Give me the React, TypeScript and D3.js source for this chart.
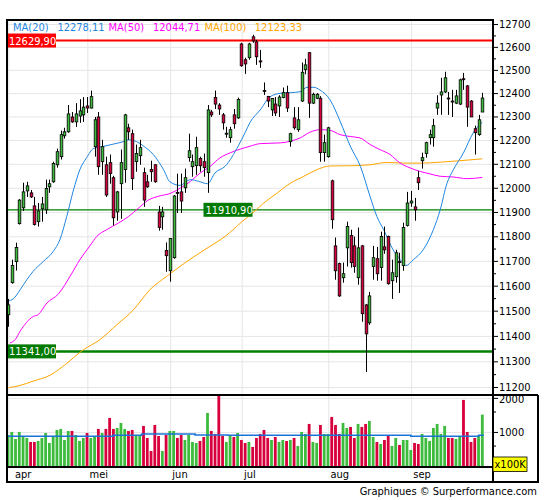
import React from 'react';
import * as d3 from 'd3';

// daily OHLC, one entry per trading day (apr .. sep)
const opens = [
  11486, 11614, 11699, 11854, 11919, 11989, 11981, 11927, 11862, 11915,
  11911, 12006, 12027, 12098, 12132, 12220, 12237, 12300, 12279, 12304,
  12309, 12347, 12338, 12174, 12300, 12111, 12098, 12107, 12044, 11902,
  12019, 12078, 12254, 12229, 12111, 12136, 12065, 12027, 12078, 12098,
  11902, 11882, 11744, 11662, 11715, 11983, 11985, 12002, 12128, 12090,
  12094, 12124, 12111, 12065, 12321, 12383, 12351, 12309, 12229, 12212,
  12309, 12296, 12615, 12546, 12555, 12646, 12624, 12541, 12413, 12388,
  12330, 12355, 12347, 12383, 12404, 12195, 12296, 12246, 12368, 12503,
  12577, 12359, 12380, 12380, 12149, 12132, 12031, 11763, 11691, 11634,
  11755, 11805, 11763, 11634, 11763, 11525, 11454, 11679, 11711, 11675,
  11759, 11801, 11622, 11638, 11699, 11683, 11846, 11939, 11923, 12044,
  12115, 12145, 12212, 12212, 12338, 12394, 12407, 12381, 12368, 12359,
  12355, 12464, 12433, 12368, 12250, 12225, 12321,
];
const highs = [
  11549, 11707, 11776, 11955, 12023, 12027, 11993, 11964, 11939, 11964,
  12036, 12036, 12111, 12166, 12242, 12254, 12351, 12321, 12359, 12376,
  12385, 12385, 12413, 12300, 12321, 12203, 12132, 12141, 12052, 11989,
  12162, 12313, 12271, 12246, 12183, 12203, 12086, 12056, 12115, 12100,
  11927, 11923, 11777, 11795, 11972, 12061, 12061, 12082, 12229, 12141,
  12216, 12132, 12145, 12351, 12330, 12413, 12359, 12317, 12258, 12258,
  12334, 12383, 12620, 12555, 12620, 12655, 12633, 12589, 12448, 12390,
  12381, 12385, 12393, 12426, 12434, 12233, 12342, 12342, 12534, 12550,
  12580, 12404, 12402, 12389, 12225, 12258, 12036, 11797, 11695, 11695,
  11862, 11829, 11801, 11838, 11767, 11529, 11577, 11763, 11759, 11821,
  11842, 11805, 11707, 11747, 11735, 11858, 11985, 11989, 11960, 12073,
  12149, 12195, 12246, 12292, 12393, 12468, 12494, 12407, 12416, 12416,
  12464, 12489, 12437, 12372, 12263, 12309, 12403,
];
const lows = [
  11438, 11610, 11663, 11850, 11906, 11964, 11960, 11846, 11842, 11862,
  11894, 11981, 12023, 12086, 12120, 12208, 12233, 12275, 12258, 12275,
  12279, 12317, 12336, 12132, 12056, 12056, 11964, 12019, 11846, 11866,
  11874, 12023, 12203, 11993, 12069, 12098, 11923, 12002, 12027, 12023,
  11825, 11829, 11658, 11618, 11711, 11898, 11898, 11981, 12111, 12048,
  12056, 12069, 12048, 11981, 12300, 12334, 12309, 12246, 12212, 12191,
  12250, 12292, 12516, 12485, 12546, 12620, 12524, 12511, 12394, 12342,
  12304, 12304, 12300, 12380, 12321, 12174, 12246, 12237, 12364, 12483,
  12296, 12355, 12376, 12111, 12111, 12128, 11833, 11626, 11557, 11614,
  11679, 11675, 11654, 11606, 11458, 11260, 11446, 11626, 11622, 11622,
  11731, 11606, 11549, 11614, 11573, 11662, 11842, 11923, 11866, 11993,
  12082, 12128, 12183, 12174, 12309, 12309, 12403, 12309, 12300, 12355,
  12351, 12416, 12258, 12300, 12141, 12220, 12321,
];
const closes = [
  11525, 11683, 11756, 11951, 11985, 12010, 11964, 11850, 11906, 11935,
  11999, 12019, 12103, 12153, 12225, 12237, 12313, 12279, 12313, 12326,
  12342, 12338, 12387, 12288, 12090, 12174, 11972, 12061, 11878, 11985,
  12107, 12309, 12237, 12040, 12145, 12170, 11951, 12006, 12069, 12027,
  11838, 11902, 11723, 11793, 11968, 11979, 11947, 12044, 12157, 12111,
  12170, 12094, 12086, 12330, 12309, 12355, 12334, 12275, 12231, 12246,
  12271, 12375, 12520, 12528, 12615, 12628, 12559, 12537, 12411, 12368,
  12379, 12317, 12385, 12404, 12338, 12229, 12254, 12288, 12492, 12524,
  12359, 12397, 12397, 12149, 12191, 12254, 11870, 11662, 11561, 11650,
  11842, 11695, 11679, 11755, 11490, 11410, 11561, 11715, 11650, 11801,
  11747, 11610, 11654, 11735, 11697, 11838, 11939, 11947, 11911, 12023,
  12128, 12191, 12225, 12263, 12359, 12407, 12468, 12380, 12366, 12390,
  12459, 12462, 12342, 12300, 12233, 12288, 12381,
];
// volume in units of 100K
const volumes = [
  926, 1015, 809, 1015, 897, 838, 721, 721, 750, 838,
  985, 691, 897, 1074, 1103, 779, 1044, 1044, 926, 750,
  838, 985, 838, 867, 1103, 985, 1103, 1426, 1103, 1132,
  1279, 1103, 1044, 1074, 897, 897, 1191, 838, 456, 1220,
  897, 456, 926, 1044, 1044, 838, 926, 779, 926, 721,
  691, 750, 867, 1574, 1044, 956, 2090, 897, 721, 897,
  867, 985, 779, 691, 721, 574, 838, 956, 1074, 838,
  779, 867, 721, 779, 750, 779, 838, 603, 1015, 956,
  1250, 721, 691, 1220, 956, 956, 1456, 1220, 956, 1279,
  1132, 1162, 838, 1250, 1162, 1250, 1338, 867, 721, 662,
  779, 897, 603, 838, 633, 779, 779, 485, 691, 662,
  956, 838, 750, 1132, 1250, 956, 1191, 838, 838, 809,
  867, 1956, 1015, 721, 838, 897, 1524,
];

// moving averages at sample days
const ma20Days = [0, 1.4, 3.2, 5, 6.7, 9.4, 12, 13.8, 15.6, 17.4, 19.1, 20.9, 22.7, 25.3, 28, 30.6, 32, 34.2, 35.9, 38.6, 41.3, 43, 45.7, 48.4, 50.6, 53, 55, 57.7, 61.2, 63, 64.3, 67, 69.6, 72.3, 75, 77.6, 79.4, 81.2, 82.9, 85.6, 88.3, 90.9, 93.6, 96.2, 98, 99.8, 102.3, 104.2, 105.7, 107.7, 110.3, 113, 114.8, 116.6, 118.3, 121, 123.6, 126];
const ma20Values = [11541, 11549, 11585, 11626, 11660, 11700, 11740, 11789, 11883, 11993, 12078, 12128, 12166, 12175, 12185, 12195, 12203, 12195, 12178, 12141, 12078, 12027, 12012, 12036, 12029, 12019, 12064, 12092, 12178, 12234, 12277, 12330, 12386, 12401, 12404, 12408, 12427, 12427, 12415, 12372, 12279, 12177, 12092, 11965, 11883, 11829, 11747, 11707, 11683, 11707, 11747, 11829, 11910, 12020, 12077, 12148, 12233, 12278];
const ma50Days = [0.5, 1.9, 3.2, 6.7, 8, 10.3, 13.4, 16.5, 19.1, 21.8, 23.6, 26.2, 29.3, 32, 34.6, 37.3, 40, 43, 45.7, 48.4, 51, 53.7, 56.3, 59, 64.3, 67, 72.3, 75, 77.6, 80.2, 82.9, 85.6, 88.2, 90.9, 93.5, 96.2, 98.8, 101.5, 104.1, 106.8, 109.5, 112.1, 114.8, 118.3, 121.9, 126];
const ma50Values = [11374, 11387, 11420, 11479, 11486, 11532, 11569, 11640, 11707, 11764, 11802, 11829, 11856, 11883, 11917, 11951, 11967, 11978, 12000, 12028, 12063, 12091, 12127, 12148, 12176, 12187, 12190, 12197, 12211, 12235, 12246, 12243, 12225, 12217, 12211, 12183, 12162, 12141, 12106, 12085, 12070, 12060, 12050, 12047, 12040, 12045];
const ma100Days = [0.1, 3.2, 6.7, 11.2, 15.6, 20, 24.4, 28.9, 33.3, 37.7, 42.2, 47, 52.3, 57.7, 62.1, 65.9, 67.8, 71.4, 75, 78.5, 82, 85.5, 90.9, 96.2, 100.6, 105, 109.5, 114.8, 120.1, 126];
const ma100Values = [11199, 11208, 11225, 11248, 11294, 11347, 11387, 11446, 11505, 11586, 11640, 11694, 11748, 11802, 11861, 11910, 11937, 11979, 12021, 12049, 12077, 12093, 12094, 12098, 12108, 12105, 12105, 12109, 12115, 12123];

// average volume, stepped
const volAvgBreaks = [0, 28, 35.5, 49.7, 58.4, 107, 125, 126.4];
const volAvgValues = [888, 918, 956, 926, 918, 888, 918, 918];

const monthLabels = ['apr', 'mei', 'jun', 'jul', 'aug', 'sep'];
const monthStarts = [0, 21, 43, 62, 85, 107];

const priceTicks = [11200, 11300, 11400, 11500, 11600, 11700, 11800, 11900, 12000, 12100, 12200, 12300, 12400, 12500, 12600, 12700];
const volumeTicks = [1000, 2000];

const legendNames = ['MA(20)', 'MA(50)', 'MA(100)'];
const legendValues = ['12278,11', '12044,71', '12123,33'];
const legendColors = ['#1f86e0', '#ff00ff', '#ffa500'];

const resistance = 12629.9;
const midLevel = 11910.9;
const support = 11341.0;

const FONT = "'DejaVu Sans Condensed', 'DejaVu Sans', sans-serif";
const UP = '#3dbb3d';
const DOWN = '#d8003c';

const left = 7;
const axisX = 493;
const frameRight = 538;
const top = 20;
const priceBottom = 395;
const volBottom = 467;
const frameBottom = 482;

export default function App() {
  const n = closes.length;
  const x = d3.scaleLinear().domain([0, n - 1]).range([8, 482.3]);
  const y = d3.scaleLog().domain([11171, 12720]).range([priceBottom, top]);
  const yv = d3.scaleLinear().domain([0, 2100]).range([466.5, priceBottom]);

  const line = d3
    .line<[number, number]>()
    .x((d) => x(d[0]))
    .y((d) => y(d[1]))
    .curve(d3.curveMonotoneX);
  const ma20 = line(ma20Days.map((d, i) => [d, ma20Values[i]]));
  const ma50 = line(ma50Days.map((d, i) => [d, ma50Values[i]]));
  const ma100 = line(ma100Days.map((d, i) => [d, ma100Values[i]]));

  const volLine = d3
    .line<[number, number]>()
    .x((d) => x(d[0]))
    .y((d) => yv(d[1]))
    .curve(d3.curveStepAfter)(volAvgBreaks.map((b, i) => [b, volAvgValues[i]]));

  const fmt = (v: number) => v.toFixed(2).replace('.', ',');
  const minorTicks = priceTicks.map((t) => t + 50).filter((t) => t < 12720);

  const bodyW = 2.6;
  const barW = 2.8;

  const levelBox = (value: number, bx: number, fill: string, key: string) => {
    const cy = y(value);
    return (
      <g key={key}>
        <rect x={bx} y={cy - 7} width={49} height={14} fill={fill} />
        <text x={bx + 2} y={cy + 4} fontSize={11} fill="#fff" fontFamily={FONT}>
          {fmt(value)}
        </text>
      </g>
    );
  };

  return (
    <div style={{ position: 'absolute', left: 0, top: 0 }}>
      <svg width={545} height={500} style={{ display: 'block', background: '#fff' }}>
        <defs>
          <clipPath id="pricePane">
            <rect x={left} y={top} width={axisX - left} height={priceBottom - top} />
          </clipPath>
          <clipPath id="volPane">
            <rect x={left} y={priceBottom} width={axisX - left} height={volBottom - priceBottom} />
          </clipPath>
        </defs>

        {/* grid */}
        {priceTicks.map((t) => (
          <line key={'hg' + t} x1={left} x2={axisX} y1={y(t)} y2={y(t)} stroke="#e6e6e6" />
        ))}
        {volumeTicks.map((t) => (
          <line key={'vg' + t} x1={left} x2={axisX} y1={yv(t)} y2={yv(t)} stroke="#e6e6e6" />
        ))}
        {monthStarts.map((m) => (
          <line key={'mg' + m} x1={x(m) + 0.8} x2={x(m) + 0.8} y1={top} y2={volBottom} stroke="#e6e6e6" />
        ))}

        {/* levels */}
        <line x1={left} x2={axisX} y1={y(resistance)} y2={y(resistance)} stroke="#ff0000" strokeWidth={2} />
        <line x1={left} x2={axisX} y1={y(midLevel)} y2={y(midLevel)} stroke="#008000" strokeWidth={1.2} />
        <line x1={left} x2={axisX} y1={y(support)} y2={y(support)} stroke="#008000" strokeWidth={2.5} />

        {/* moving averages */}
        <g clipPath="url(#pricePane)" fill="none" strokeWidth={1}>
          <path d={ma100 || ''} stroke="#ffa500" />
          <path d={ma50 || ''} stroke="#ff00ff" />
          <path d={ma20 || ''} stroke="#1f86e0" />
        </g>

        {/* candles */}
        <g clipPath="url(#pricePane)">
          {closes.map((c, i) => {
            const o = opens[i];
            const cx = Math.round(x(i)) + 0.5;
            const yTop = y(Math.max(o, c));
            const yBot = y(Math.min(o, c));
            return (
              <g key={'c' + i}>
                <line x1={cx} x2={cx} y1={y(highs[i])} y2={y(lows[i])} stroke="#000" strokeWidth={1} />
                <rect
                  x={cx - bodyW / 2}
                  y={yTop}
                  width={bodyW}
                  height={Math.max(1, yBot - yTop)}
                  fill={c >= o ? UP : DOWN}
                  stroke="#000"
                  strokeWidth={0.8}
                />
              </g>
            );
          })}
        </g>

        {/* volume */}
        <g clipPath="url(#volPane)">
          {volumes.map((v, i) => (
            <rect
              key={'v' + i}
              x={x(i) - barW / 2}
              y={yv(v)}
              width={barW}
              height={yv(0) - yv(v)}
              fill={closes[i] >= opens[i] ? UP : DOWN}
            />
          ))}
          <path d={volLine || ''} fill="none" stroke="#1a73d6" strokeWidth={1.6} />
        </g>

        {/* level labels */}
        {levelBox(resistance, left, '#ff0000', 'lr')}
        {levelBox(midLevel, 203.5, '#007a00', 'lm')}
        {levelBox(support, left, '#007a00', 'ls')}

        {/* legend */}
        <g fontFamily={FONT} fontSize={11}>
          {legendNames.map((name, k) => {
            const lx = [13, 108.5, 204.4][k];
            const vx = [57.4, 153, 254.8][k];
            return (
              <g key={name} fill={legendColors[k]}>
                <text x={lx} y={31}>{name}</text>
                <text x={vx} y={31}>{legendValues[k]}</text>
              </g>
            );
          })}
        </g>

        {/* frame */}
        <g stroke="#000" strokeWidth={2} fill="none">
          <line x1={left} x2={axisX} y1={top} y2={top} />
          <line x1={left} x2={left} y1={top - 1} y2={frameBottom + 1} />
          <line x1={left} x2={axisX} y1={volBottom} y2={volBottom} />
          <line x1={left} x2={frameRight} y1={frameBottom} y2={frameBottom} />
          <line x1={frameRight} x2={frameRight} y1={priceBottom} y2={frameBottom + 1} />
          <line x1={axisX} x2={axisX} y1={top - 1} y2={frameBottom} />
        </g>

        {/* price axis */}
        <g fontFamily={FONT} fontSize={11} fill="#000">
          {priceTicks.map((t) => (
            <g key={'pt' + t}>
              <line x1={axisX} x2={axisX + 5} y1={y(t)} y2={y(t)} stroke="#000" />
              <text x={axisX + 6} y={y(t) + 3.5}>{t}</text>
            </g>
          ))}
          {minorTicks.map((t) => (
            <line key={'mt' + t} x1={axisX} x2={axisX + 3} y1={y(t)} y2={y(t)} stroke="#000" />
          ))}
          {volumeTicks.map((t) => (
            <g key={'vt' + t}>
              <line x1={axisX} x2={axisX + 5} y1={yv(t)} y2={yv(t)} stroke="#000" />
              <text x={axisX + 6} y={yv(t) + (t === 2000 ? 4.5 : 4)}>{t}</text>
            </g>
          ))}
          {[600, 1600].map((t) => (
            <line key={'vm' + t} x1={axisX} x2={axisX + 3} y1={yv(t)} y2={yv(t)} stroke="#000" />
          ))}
        </g>

        {/* line under price pane drawn over the volume labels, as in the source */}
        <line x1={left} x2={frameRight} y1={priceBottom} y2={priceBottom} stroke="#000" strokeWidth={2} />

        <g fontFamily={FONT} fontSize={11} fill="#000">
          <rect x={axisX} y={457} width={34} height={14.5} fill="#ffff00" stroke="#000" strokeWidth={0.8} />
          <text x={axisX + 1.5} y={468}>x100K</text>
        </g>

        {/* month labels */}
        <g fontFamily={FONT} fontSize={11} fill="#000">
          {monthLabels.map((m, k) => (
            <text key={m} x={Math.max(x(monthStarts[k]) + 2.5, 15)} y={478}>
              {m}
            </text>
          ))}
        </g>

        <text x={537} y={495} textAnchor="end" fontFamily={FONT} fontSize={11} fill="#000">
          Graphiques © Surperformance.com
        </text>
      </svg>
    </div>
  );
}
